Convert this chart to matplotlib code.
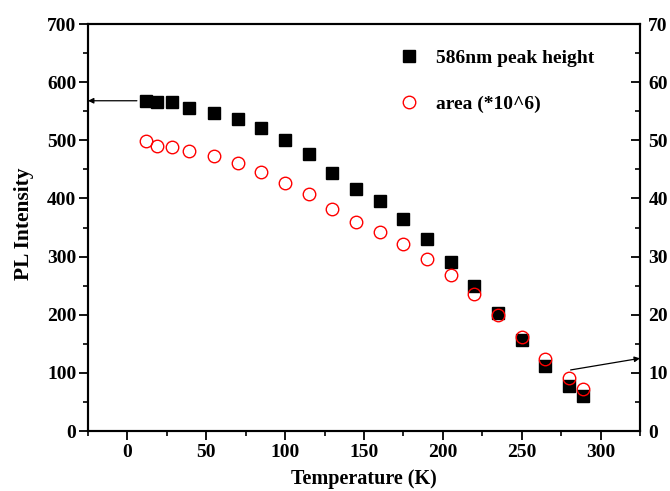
import matplotlib
matplotlib.use("Agg")

import matplotlib.pyplot as plt
from matplotlib.ticker import MultipleLocator

temp_k = [12, 19, 28, 39, 55, 70, 85, 100, 115, 130, 145, 160, 175,
          190, 205, 220, 235, 250, 265, 280, 289]
peak_height = [568, 565, 565, 555, 547, 536, 521, 501, 477, 444, 416, 396,
               365, 330, 291, 249, 203, 157, 112, 78, 60]
area_e6 = [49.9, 49.1, 48.8, 48.1, 47.3, 46.1, 44.5, 42.7, 40.7, 38.2, 36.0,
           34.2, 32.2, 29.6, 26.8, 23.5, 19.9, 16.2, 12.3, 9.1, 7.2]

plt.rcParams["font.family"] = ["Liberation Serif", "DejaVu Serif"]
plt.rcParams["font.weight"] = "bold"

fig = plt.figure(figsize=(6.7, 4.91), dpi=100)
ax = fig.add_axes([88 / 670, 60 / 491, 552 / 670, 407 / 491])
ax2 = ax.twinx()

ax.plot(temp_k, peak_height, "s", color="black", markersize=8.6,
        label="586nm peak height", zorder=3)
ax2.plot(temp_k, area_e6, "o", markerfacecolor="none", markeredgecolor="red",
         markeredgewidth=1.0, markersize=9, label="area (*10^6)", zorder=4)

ax.set_xlim(-25, 325)
ax.set_ylim(0, 700)
ax2.set_ylim(0, 70)

ax.xaxis.set_major_locator(MultipleLocator(50))
ax.xaxis.set_minor_locator(MultipleLocator(25))
ax.yaxis.set_major_locator(MultipleLocator(100))
ax.yaxis.set_minor_locator(MultipleLocator(50))
ax2.yaxis.set_major_locator(MultipleLocator(10))
ax2.yaxis.set_minor_locator(MultipleLocator(5))

for s in ax.spines.values():
    s.set_linewidth(1.5)
for s in ax2.spines.values():
    s.set_linewidth(1.5)

ax.tick_params(which="major", direction="out", length=6.3, width=1.3,
               labelsize=14, pad=2)
ax.tick_params(which="minor", direction="out", length=3.3, width=1.2)
ax.tick_params(axis="x", which="major", pad=3)
ax.tick_params(top=False, which="both")
# right axis ticks point inward
ax2.tick_params(which="major", direction="in", length=6.3, width=1.3,
                labelsize=14, pad=6)
ax2.tick_params(which="minor", direction="in", length=3.3, width=1.2)

ax.set_xlabel("Temperature (K)", fontsize=14.5, fontweight="bold", labelpad=6)
ax.set_ylabel("PL Intensity", fontsize=15.5, fontweight="bold")
ax.yaxis.set_label_coords(-0.098, 0.51)

ax.annotate("", xy=(-25, 568), xytext=(6, 568),
            arrowprops=dict(arrowstyle="-|>", color="black", lw=0.9,
                            mutation_scale=8, shrinkA=0, shrinkB=0))
ax.annotate("", xy=(325, 125), xytext=(281, 105),
            arrowprops=dict(arrowstyle="-|>", color="black", lw=0.9,
                            mutation_scale=8, shrinkA=0, shrinkB=0),
            annotation_clip=False)

h1, l1 = ax.get_legend_handles_labels()
h2, l2 = ax2.get_legend_handles_labels()
ax2.legend(h1 + h2, l1 + l2, loc="upper left", frameon=False,
           bbox_to_anchor=(0.564, 0.938), borderaxespad=0, borderpad=0,
           labelspacing=1.45, handlelength=1.0, handletextpad=0.9,
           prop={"weight": "bold", "size": 14})

fig.savefig("out.png", dpi=100)
